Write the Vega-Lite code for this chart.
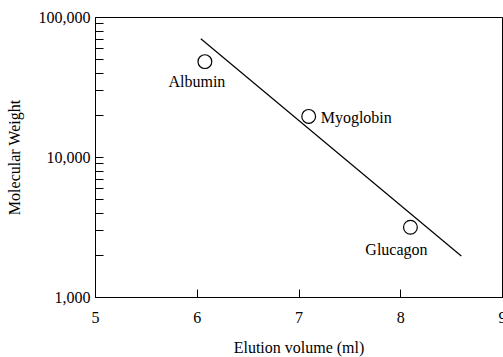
{
  "$schema": "https://vega.github.io/schema/vega-lite/v6.json",
  "autosize": "none",
  "padding": {"left": 95, "top": 17, "right": 1, "bottom": 60},
  "width": 407,
  "height": 280,
  "background": "white",
  "config": {
    "view": {"stroke": "black", "strokeWidth": 1},
    "font": "Liberation Serif",
    "text": {"font": "Liberation Serif"},
    "axis": {"domainColor": "black", "tickColor": "black", "labelColor": "black", "titleColor": "black", "grid": false, "labelFont": "Liberation Serif", "titleFont": "Liberation Serif", "labelFontSize": 16, "titleFontSize": 16, "titleFontWeight": "normal"}
  },
  "datasets": {
    "proteins": [
      {"protein": "Albumin", "volume": 6.08, "mw": 48000},
      {"protein": "Myoglobin", "volume": 7.1, "mw": 19500},
      {"protein": "Glucagon", "volume": 8.1, "mw": 3150}
    ],
    "fit": [
      {"volume": 6.04, "mw": 70000},
      {"volume": 8.6, "mw": 1960}
    ]
  },
  "layer": [
    {
      "data": {"name": "fit"},
      "mark": {"type": "line", "color": "black", "strokeWidth": 1.2},
      "encoding": {
        "x": {"field": "volume", "type": "quantitative", "scale": {"domain": [5, 9]},
          "axis": {"title": "Elution volume (ml)", "values": [5, 6, 7, 8, 9], "format": "d", "tickSize": -8, "labelPadding": 20, "titlePadding": 14, "labelFlush": false}},
        "y": {"field": "mw", "type": "quantitative", "scale": {"type": "log", "domain": [1000, 100000]},
          "axis": {"title": "Molecular Weight", "values": [1000, 2000, 3000, 4000, 5000, 6000, 7000, 8000, 9000, 10000, 20000, 30000, 40000, 50000, 60000, 70000, 80000, 90000, 100000],
            "labelExpr": "(datum.value == 1000 || datum.value == 10000 || datum.value == 100000) ? format(datum.value, ',') : ''",
            "tickSize": -8, "labelPadding": 13, "titlePadding": 16}}
      }
    },
    {
      "data": {"name": "proteins"},
      "mark": {"type": "point", "shape": "circle", "size": 190, "filled": false, "stroke": "black", "fill": "white", "fillOpacity": 1, "strokeWidth": 1.2},
      "encoding": {
        "x": {"field": "volume", "type": "quantitative"},
        "y": {"field": "mw", "type": "quantitative"}
      }
    },
    {
      "data": {"name": "proteins"},
      "transform": [{"filter": "datum.protein == 'Albumin'"}],
      "mark": {"type": "text", "font": "Liberation Serif", "fontSize": 16, "dy": 20, "dx": -8, "align": "center", "color": "black"},
      "encoding": {
        "x": {"field": "volume", "type": "quantitative"},
        "y": {"field": "mw", "type": "quantitative"},
        "text": {"field": "protein"}
      }
    },
    {
      "data": {"name": "proteins"},
      "transform": [{"filter": "datum.protein == 'Myoglobin'"}],
      "mark": {"type": "text", "font": "Liberation Serif", "fontSize": 16, "dx": 12, "dy": 2, "align": "left", "color": "black"},
      "encoding": {
        "x": {"field": "volume", "type": "quantitative"},
        "y": {"field": "mw", "type": "quantitative"},
        "text": {"field": "protein"}
      }
    },
    {
      "data": {"name": "proteins"},
      "transform": [{"filter": "datum.protein == 'Glucagon'"}],
      "mark": {"type": "text", "font": "Liberation Serif", "fontSize": 16, "dy": 23, "dx": -14, "align": "center", "color": "black"},
      "encoding": {
        "x": {"field": "volume", "type": "quantitative"},
        "y": {"field": "mw", "type": "quantitative"},
        "text": {"field": "protein"}
      }
    }
  ]
}
